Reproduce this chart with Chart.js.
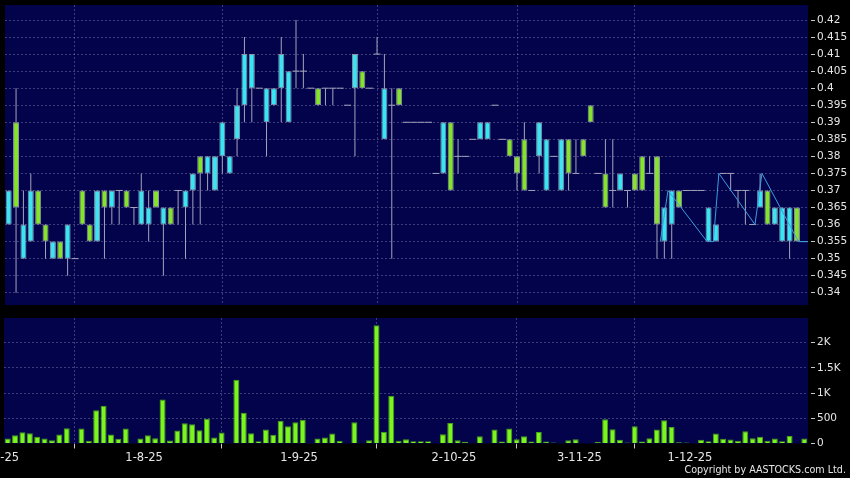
<!DOCTYPE html>
<html>
<head>
<meta charset="utf-8">
<script src="https://cdn.jsdelivr.net/npm/chart.js@4.4.1/dist/chart.umd.min.js"></script>
<style>
  html, body { margin: 0; padding: 0; background: #000; }
  #wrap { position: relative; width: 850px; height: 478px; background: #000; overflow: hidden; }
  #priceChart { position: absolute; left: 0; top: 0; }
  #volChart { position: absolute; left: 0; top: 310px; }
  #copy { position: absolute; right: 4px; top: 465px; font: 9.6px/10px "DejaVu Sans", sans-serif; color: #e6e6e6; white-space: nowrap; }
</style>
</head>
<body>
<div id="wrap">
  <canvas id="priceChart" width="850" height="310"></canvas>
  <canvas id="volChart" width="850" height="168"></canvas>
  <div id="copy">Copyright by AASTOCKS.com Ltd.</div>
</div>
<script>
// daily candles, one slot per trading day
const opens = [
  0.36, 0.39, 0.35, 0.355, 0.37, 0.36, 0.35, 0.355, 0.35, 0.35,
  0.37, 0.36, 0.355, 0.37, 0.365, 0.37, 0.37, 0.365, 0.36, 0.36,
  0.37, 0.36, 0.365, 0.37, 0.365, 0.37, 0.38, 0.375, 0.37, 0.38,
  0.375, 0.385, 0.395, 0.40, 0.40, 0.39, 0.395, 0.40, 0.39, 0.405,
  0.405, 0.40, 0.40, 0.40, 0.40, 0.40, 0.395, 0.40, 0.405, 0.40,
  0.41, 0.385, 0.395, 0.40, 0.39, 0.39, 0.39, 0.39, 0.375, 0.375,
  0.39, 0.38, 0.38, 0.385, 0.385, 0.385, 0.395, 0.385, 0.385, 0.38,
  0.385, 0.37, 0.38, 0.37, 0.38, 0.37, 0.385, 0.375, 0.385, 0.395,
  0.375, 0.375, 0.37, 0.37, 0.37, 0.375, 0.38, 0.375, 0.38, 0.355,
  0.36, 0.37, 0.37, 0.37, 0.37, 0.355, 0.355, 0.375, 0.375, 0.37,
  0.37, 0.36, 0.365, 0.37, 0.36, 0.355, 0.355, 0.365, 0.355
];
const highs = [
  0.37, 0.40, 0.37, 0.375, 0.37, 0.36, 0.355, 0.355, 0.36, 0.35,
  0.37, 0.36, 0.37, 0.37, 0.37, 0.37, 0.37, 0.365, 0.375, 0.37,
  0.37, 0.365, 0.365, 0.37, 0.37, 0.375, 0.38, 0.38, 0.38, 0.39,
  0.38, 0.40, 0.415, 0.41, 0.40, 0.40, 0.40, 0.415, 0.405, 0.42,
  0.41, 0.40, 0.40, 0.40, 0.40, 0.40, 0.395, 0.41, 0.405, 0.40,
  0.415, 0.41, 0.40, 0.40, 0.39, 0.39, 0.39, 0.39, 0.375, 0.39,
  0.39, 0.385, 0.38, 0.385, 0.39, 0.39, 0.395, 0.385, 0.385, 0.38,
  0.39, 0.37, 0.39, 0.385, 0.38, 0.385, 0.385, 0.385, 0.385, 0.395,
  0.375, 0.385, 0.385, 0.375, 0.37, 0.375, 0.38, 0.38, 0.38, 0.365,
  0.37, 0.37, 0.37, 0.37, 0.37, 0.365, 0.36, 0.375, 0.375, 0.37,
  0.37, 0.36, 0.375, 0.37, 0.365, 0.365, 0.365, 0.365, 0.355
];
const lows = [
  0.36, 0.34, 0.35, 0.355, 0.36, 0.35, 0.35, 0.35, 0.345, 0.35,
  0.36, 0.355, 0.355, 0.35, 0.36, 0.36, 0.365, 0.36, 0.36, 0.355,
  0.365, 0.345, 0.36, 0.36, 0.35, 0.36, 0.36, 0.37, 0.37, 0.375,
  0.375, 0.38, 0.39, 0.39, 0.40, 0.38, 0.395, 0.39, 0.39, 0.40,
  0.40, 0.40, 0.395, 0.395, 0.395, 0.40, 0.395, 0.38, 0.40, 0.40,
  0.41, 0.385, 0.35, 0.395, 0.39, 0.39, 0.39, 0.39, 0.375, 0.375,
  0.37, 0.375, 0.38, 0.385, 0.385, 0.385, 0.395, 0.385, 0.38, 0.37,
  0.37, 0.37, 0.375, 0.37, 0.38, 0.37, 0.37, 0.375, 0.38, 0.39,
  0.375, 0.365, 0.365, 0.37, 0.365, 0.37, 0.37, 0.375, 0.35, 0.35,
  0.35, 0.365, 0.37, 0.37, 0.37, 0.355, 0.355, 0.375, 0.37, 0.365,
  0.36, 0.36, 0.365, 0.36, 0.36, 0.355, 0.35, 0.355, 0.355
];
const closes = [
  0.37, 0.365, 0.36, 0.37, 0.36, 0.355, 0.355, 0.35, 0.36, 0.35,
  0.36, 0.355, 0.37, 0.365, 0.37, 0.37, 0.365, 0.365, 0.37, 0.365,
  0.365, 0.365, 0.36, 0.37, 0.37, 0.375, 0.375, 0.38, 0.38, 0.39,
  0.38, 0.395, 0.41, 0.41, 0.40, 0.40, 0.40, 0.41, 0.405, 0.405,
  0.405, 0.40, 0.395, 0.40, 0.40, 0.40, 0.395, 0.41, 0.40, 0.40,
  0.41, 0.40, 0.395, 0.395, 0.39, 0.39, 0.39, 0.39, 0.375, 0.39,
  0.37, 0.38, 0.38, 0.385, 0.39, 0.39, 0.395, 0.385, 0.38, 0.375,
  0.37, 0.37, 0.39, 0.385, 0.38, 0.385, 0.375, 0.375, 0.38, 0.39,
  0.375, 0.365, 0.37, 0.375, 0.37, 0.37, 0.37, 0.375, 0.36, 0.365,
  0.37, 0.365, 0.37, 0.37, 0.37, 0.365, 0.36, 0.375, 0.375, 0.37,
  0.37, 0.36, 0.37, 0.36, 0.365, 0.365, 0.365, 0.355, 0.355
];
// volume (shares, K scale on axis)
const volumes = [
  100, 166, 225, 205, 132, 100, 66, 179, 305, 0,
  298, 53, 662, 748, 179, 93, 298, 5, 100, 166,
  106, 874, 60, 258, 404, 384, 265, 490, 119, 219,
  5, 1265, 609, 205, 46, 278, 172, 450, 344, 424,
  470, 5, 100, 119, 199, 53, 10, 424, 8, 66,
  2344, 232, 947, 53, 86, 46, 46, 46, 0, 184,
  408, 66, 33, 0, 145, 0, 276, 40, 296, 86,
  145, 40, 230, 40, 20, 0, 66, 86, 0, 0,
  33, 480, 283, 72, 20, 342, 40, 105, 276, 460,
  329, 26, 20, 0, 72, 46, 197, 92, 79, 53,
  243, 105, 132, 53, 99, 46, 151, 0, 99
];
// thin zig-zag overlay at the right end (slot position, price)
const trendSlot = [89.45, 90.5, 95.8, 96.65, 97.4, 102.3, 103.25, 108.2, 109.5];
const trendPrice = [0.355, 0.37, 0.355, 0.355, 0.375, 0.36, 0.375, 0.355, 0.355];

const monthStart = [1, 20, 41, 62, 79, 94];
const monthLabels = ['2-7-25', '1-8-25', '1-9-25', '2-10-25', '3-11-25', '1-12-25'];
const priceTicks = [0.34, 0.345, 0.35, 0.355, 0.36, 0.365, 0.37, 0.375, 0.38, 0.385, 0.39, 0.395, 0.4, 0.405, 0.41, 0.415, 0.42];
const volTicks = [0, 500, 1000, 1500, 2000];
const volTickLabels = ['0', '500', '1K', '1.5K', '2K'];

const slots = opens.map((_, i) => i + 1);

const NAVY = '#03034c';
const GRID = 'rgba(120,120,170,0.5)';
const TICK = '#c8c8c8';
const TEXT = '#e6e6e6';
const FONT = 'DejaVu Sans';
const UP = '#3ae4f2';
const DOWN = '#86e22c';

const edges = monthStart.map(s => s - 0.5);
const labelAt = edges.map((e, i) => i === 0 ? 0 : e);

const panelBg = {
  id: 'panelBg',
  beforeDraw(chart) {
    const { ctx, chartArea: a } = chart;
    ctx.save();
    ctx.fillStyle = '#000';
    ctx.fillRect(0, 0, chart.width, chart.height);
    ctx.fillStyle = NAVY;
    ctx.fillRect(a.left, a.top, a.right - a.left, a.bottom - a.top);
    ctx.restore();
  }
};

function xAxis(withLabels) {
  const vals = withLabels ? [...new Set(labelAt.concat(edges))].sort((a, b) => a - b) : edges;
  return {
    type: 'linear',
    bounds: 'data',
    min: 0.5,
    max: slots.length + 0.5,
    offset: false,
    afterBuildTicks: s => { s.ticks = vals.map(v => ({ value: v })); },
    afterFit: s => { s.paddingLeft = 0; s.paddingRight = 0; s.height = withLabels ? 34.5 : 0; },
    border: { display: false, dash: [2, 2] },
    grid: {
      color: c => (c.tick && edges.includes(c.tick.value)) ? GRID : 'transparent',
      drawTicks: withLabels,
      tickLength: 5,
      tickWidth: 1,
      tickColor: c => (c.tick && labelAt.includes(c.tick.value)) ? TICK : 'transparent',
      tickBorderDash: []
    },
    ticks: {
      display: withLabels,
      autoSkip: false,
      maxRotation: 0,
      padding: 3,
      color: TEXT,
      font: { family: FONT, size: 11.5 },
      callback: v => { const i = labelAt.indexOf(v); return i < 0 ? '' : monthLabels[i]; }
    }
  };
}

function yAxis(min, max, ticks, fmt, gridColor) {
  return {
    type: 'linear',
    position: 'right',
    bounds: 'data',
    min: min,
    max: max,
    beginAtZero: false,
    afterBuildTicks: s => { s.ticks = ticks.map(v => ({ value: v })); },
    afterFit: s => { s.width = 42; s.paddingTop = 0; s.paddingBottom = 0; },
    border: { display: false, dash: [2, 2] },
    grid: { color: gridColor, tickLength: 7, tickWidth: 1, tickColor: TICK, tickBorderDash: [0, 3, 4] },
    ticks: { padding: 2, color: TEXT, font: { family: FONT, size: 10.5 }, callback: fmt }
  };
}

const common = {
  responsive: false,
  animation: false,
  events: [],
  plugins: { legend: { display: false }, tooltip: { enabled: false } }
};

// price panel
new Chart(document.getElementById('priceChart'), {
  type: 'bar',
  data: {
    labels: slots,
    datasets: [
      {
        type: 'line',
        data: trendSlot.map((x, i) => ({ x: x, y: trendPrice[i] })),
        borderColor: '#3a9de0',
        borderWidth: 1,
        pointRadius: 0,
        tension: 0,
        fill: false,
        order: 0
      },
      {
        data: opens.map((o, i) => o !== closes[i] ? [o, closes[i]] : null),
        backgroundColor: c => closes[c.dataIndex] > opens[c.dataIndex] ? UP : DOWN,
        borderColor: '#8a92a8',
        borderWidth: 1,
        borderSkipped: false,
        grouped: false,
        categoryPercentage: 1,
        barPercentage: 2,
        maxBarThickness: 6,
        order: 1
      },
      {
        type: 'line',
        data: closes.map((c, i) => c === opens[i] ? c : null),
        showLine: false,
        pointStyle: 'line',
        pointRadius: 3.5,
        pointBorderColor: '#a4a4bc',
        pointBorderWidth: 1,
        order: 2
      },
      {
        data: lows.map((l, i) => [l, highs[i]]),
        backgroundColor: '#a4a4bc',
        borderWidth: 0,
        grouped: false,
        categoryPercentage: 1,
        barPercentage: 2,
        maxBarThickness: 1,
        order: 3
      }
    ]
  },
  options: Object.assign({}, common, {
    layout: { padding: { left: 4, right: 0, top: 5, bottom: 5 } },
    scales: {
      x: xAxis(false),
      y: yAxis(0.3364, 0.4244, priceTicks, v => String(+v.toFixed(3)), GRID)
    }
  }),
  plugins: [panelBg]
});

// volume panel
new Chart(document.getElementById('volChart'), {
  type: 'bar',
  data: {
    labels: slots,
    datasets: [{
      data: volumes,
      backgroundColor: '#7cf41e',
      borderColor: '#46a016',
      borderWidth: 1,
      borderSkipped: 'start',
      grouped: false,
      categoryPercentage: 1,
      barPercentage: 2,
      maxBarThickness: 6
    }]
  },
  options: Object.assign({}, common, {
    layout: { padding: { left: 4, right: 0, top: 8, bottom: 0 } },
    scales: {
      x: xAxis(true),
      y: yAxis(0, 2490, volTicks, v => volTickLabels[volTicks.indexOf(v)],
        c => (c.tick && c.tick.value > 0) ? GRID : 'transparent')
    }
  }),
  plugins: [panelBg]
});
</script>
</body>
</html>
